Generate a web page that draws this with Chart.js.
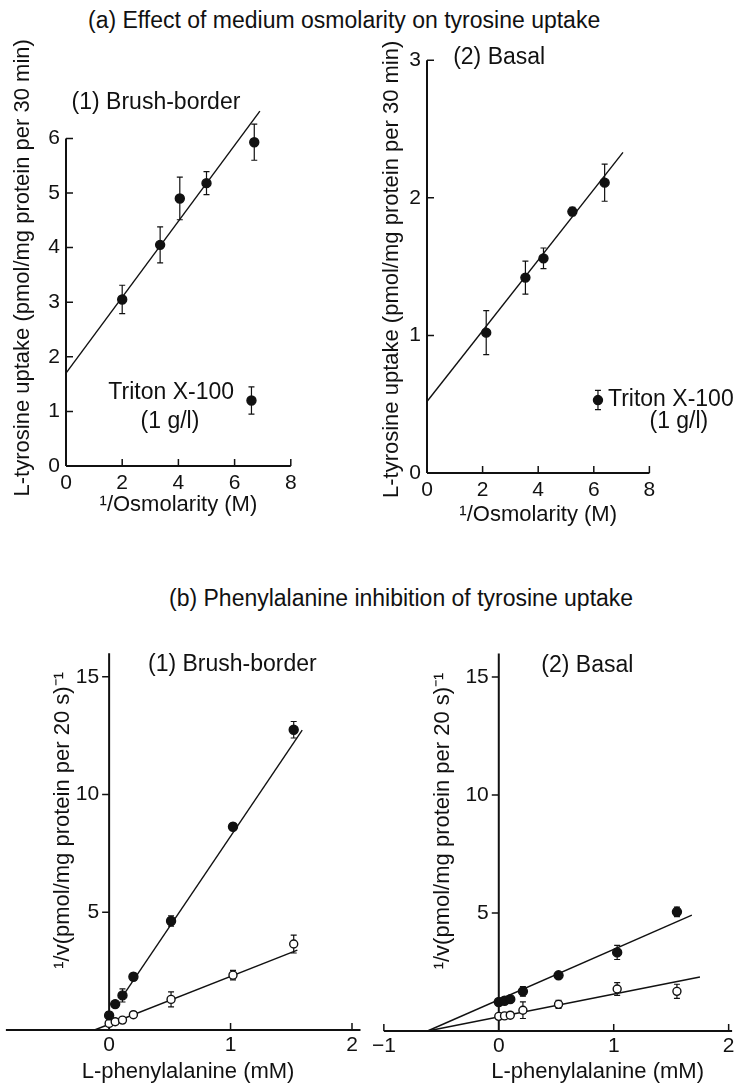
<!DOCTYPE html>
<html>
<head>
  <meta charset="utf-8">
  <title>Tyrosine uptake: osmolarity and phenylalanine inhibition</title>
  <script src="https://cdn.jsdelivr.net/npm/chart.js"></script>
  <style>
    body { margin: 0; background: #fff; }
    #page { position: relative; width: 738px; height: 1085px; overflow: hidden; }
    #page canvas { position: absolute; }
    .heading { position: absolute; font: 23px/26px "Liberation Sans", Arial, sans-serif; color: #111; white-space: nowrap; }
  </style>
</head>
<body>
<div id="page">
  <div class="heading" style="left:88px; top:7px;">(a) Effect of medium osmolarity on tyrosine uptake</div>
  <div class="heading" style="left:169px; top:585px;">(b) Phenylalanine inhibition of tyrosine uptake</div>
  <canvas id="chartA1" width="369" height="560" style="left:0; top:0;"></canvas>
  <canvas id="chartA2" width="369" height="560" style="left:369px; top:0;"></canvas>
  <canvas id="chartB1" width="369" height="525" style="left:0; top:560px;"></canvas>
  <canvas id="chartB2" width="369" height="525" style="left:369px; top:560px;"></canvas>
</div>

<script>
  // ---- (a) uptake against 1/osmolarity ----
  var osmA1 = [2.0, 3.35, 4.05, 5.0, 6.7];
  var uptakeA1 = [3.05, 4.05, 4.9, 5.18, 5.93];
  var errA1 = [0.26, 0.33, 0.39, 0.21, 0.33];
  var fitA1 = [[0, 1.7], [6.9, 6.5]];
  var tritonA1 = { x: 6.6, y: 1.2, err: 0.25 };

  var osmA2 = [2.13, 3.54, 4.19, 5.23, 6.39];
  var uptakeA2 = [1.02, 1.42, 1.56, 1.90, 2.11];
  var errA2 = [0.16, 0.12, 0.075, 0.03, 0.135];
  var fitA2 = [[0, 0.52], [7.05, 2.33]];
  var tritonA2 = { x: 6.15, y: 0.53, err: 0.07 };

  // ---- (b) Dixon plots, 1/v against phenylalanine ----
  var pheB1 = [0, 0.05, 0.11, 0.2, 0.51, 1.02, 1.52];
  var filledB1 = [0.62, 1.1, 1.47, 2.26, 4.63, 8.63, 12.75];
  var filledErrB1 = [0.15, 0.1, 0.28, 0.15, 0.22, 0.15, 0.35];
  var openB1 = [0.28, 0.35, 0.42, 0.65, 1.3, 2.33, 3.65];
  var openErrB1 = [0.1, 0.05, 0.08, 0.1, 0.32, 0.2, 0.38];
  var fitFilledB1 = [[0.13, 1.58], [1.59, 12.73]];
  var fitOpenB1 = [[-0.12, 0], [1.55, 3.39]];

  var pheB2 = [0, 0.05, 0.1, 0.21, 0.52, 1.03, 1.55];
  var filledB2 = [1.23, 1.28, 1.35, 1.68, 2.36, 3.33, 5.05];
  var filledErrB2 = [0.06, 0.06, 0.06, 0.2, 0.08, 0.3, 0.2];
  var openB2 = [0.62, 0.64, 0.67, 0.88, 1.13, 1.78, 1.68];
  var openErrB2 = [0.05, 0.05, 0.05, 0.35, 0.17, 0.27, 0.3];
  var fitFilledB2 = [[-0.62, 0], [1.68, 4.91]];
  var fitOpenB2 = [[-0.62, 0], [1.75, 2.29]];

  // tick values
  var ticksXA = [0, 2, 4, 6, 8];
  var ticksYA1 = [0, 1, 2, 3, 4, 5, 6];
  var ticksYA2 = [0, 1, 2, 3];
  var ticksXB1 = [0, 1, 2];
  var ticksXB2 = [-1, 0, 1, 2];
  var ticksYB = [5, 10, 15];

  var FONT = '"Liberation Sans", Arial, sans-serif';
  var INK = '#111';

  function fmt(v) {
    return v < 0 ? '\u2212' + Math.abs(v) : String(v);
  }

  // paper style axes: lines through the origin, short ticks, error bars, labels
  var paperAxes = {
    id: 'paperAxes',
    beforeDatasetsDraw: function (chart, args, o) {
      var ctx = chart.ctx;
      var sx = chart.scales.x, sy = chart.scales.y;
      var px = function (v) { return sx.getPixelForValue(v); };
      var py = function (v) { return sy.getPixelForValue(v); };
      var x0 = px(0), y0 = py(0);
      ctx.save();
      ctx.strokeStyle = INK;
      ctx.fillStyle = INK;

      // error bars under the markers
      chart.data.datasets.forEach(function (ds, i) {
        if (!ds.errorBars) return;
        var meta = chart.getDatasetMeta(i);
        ctx.lineWidth = 1.2;
        ctx.beginPath();
        meta.data.forEach(function (pt, j) {
          var v = ds.data[j].y, e = ds.errorBars[j];
          var top = py(v + e), bot = py(v - e);
          ctx.moveTo(pt.x, top); ctx.lineTo(pt.x, bot);
          ctx.moveTo(pt.x - 3, top); ctx.lineTo(pt.x + 3, top);
          ctx.moveTo(pt.x - 3, bot); ctx.lineTo(pt.x + 3, bot);
        });
        ctx.stroke();
      });

      // axis lines
      ctx.lineWidth = 2;
      ctx.beginPath();
      ctx.moveTo(px(o.xSpan[0]), y0); ctx.lineTo(px(o.xSpan[1]), y0);
      ctx.moveTo(x0, py(o.ySpan[0])); ctx.lineTo(x0, py(o.ySpan[1]));
      ctx.stroke();

      // tick marks
      ctx.lineWidth = 1.5;
      ctx.beginPath();
      o.xTicks.forEach(function (v) {
        if (v === 0) return;
        ctx.moveTo(px(v), y0); ctx.lineTo(px(v), y0 - 7);
      });
      o.yTicks.forEach(function (v) {
        if (v === 0) return;
        ctx.moveTo(x0, py(v)); ctx.lineTo(x0 + 7 * o.yTickSide, py(v));
      });
      ctx.stroke();

      // tick labels
      ctx.font = '21px ' + FONT;
      ctx.textBaseline = 'middle';
      ctx.textAlign = 'center';
      o.xTicks.forEach(function (v) { ctx.fillText(fmt(v), px(v), y0 + o.xLabelGap); });
      ctx.textAlign = 'right';
      o.yTicks.forEach(function (v) { ctx.fillText(fmt(v), x0 - o.yLabelGap, py(v)); });

      // axis titles
      ctx.font = '22px ' + FONT;
      ctx.textAlign = 'center';
      ctx.fillText(o.xTitle.text, px(o.xTitle.at), y0 + o.xTitle.gap);
      ctx.save();
      ctx.translate(x0 - o.yTitle.gap, py(o.yTitle.at));
      ctx.rotate(-Math.PI / 2);
      ctx.fillText(o.yTitle.text, 0, 0);
      ctx.restore();

      // panel notes
      ctx.font = '23px ' + FONT;
      o.notes.forEach(function (n) {
        ctx.textAlign = n.align || 'left';
        ctx.fillText(n.text, px(n.x), py(n.y));
      });
      ctx.restore();
    }
  };

  function marks(xs, ys, errs, filled) {
    return {
      data: xs.map(function (x, i) { return { x: x, y: ys[i] }; }),
      errorBars: errs,
      pointRadius: filled ? 4.5 : 4,
      pointBackgroundColor: filled ? INK : '#fff',
      pointBorderColor: INK,
      pointBorderWidth: 1.4,
      showLine: false,
      clip: false
    };
  }

  function fitLine(pts) {
    return {
      data: pts.map(function (p) { return { x: p[0], y: p[1] }; }),
      showLine: true,
      borderColor: INK,
      borderWidth: 1.4,
      pointRadius: 0,
      clip: false
    };
  }

  function panel(id, datasets, xr, yr, pad, frame) {
    return new Chart(document.getElementById(id), {
      type: 'scatter',
      data: { datasets: datasets },
      options: {
        responsive: false,
        animation: false,
        events: [],
        layout: { padding: pad },
        scales: {
          x: { type: 'linear', display: false, min: xr[0], max: xr[1] },
          y: { type: 'linear', display: false, min: yr[0], max: yr[1] }
        },
        plugins: {
          legend: { display: false },
          tooltip: { enabled: false },
          paperAxes: frame
        }
      },
      plugins: [paperAxes]
    });
  }

  var yTitleA = 'L-tyrosine uptake (pmol/mg protein per 30 min)';
  var xTitleA = '\u00B9/Osmolarity (M)';
  var yTitleB = '\u00B9/v(pmol/mg protein per 20 s)\u207B\u00B9';
  var xTitleB = 'L-phenylalanine (mM)';

  panel('chartA1', [
    marks(osmA1, uptakeA1, errA1, true),
    marks([tritonA1.x], [tritonA1.y], [tritonA1.err], true),
    fitLine(fitA1)
  ], [0, 8], [0, 6], { left: 66, right: 78.2, top: 138.4, bottom: 94 }, {
    xSpan: [0, 8], ySpan: [0, 6], xTicks: ticksXA, yTicks: ticksYA1,
    yTickSide: 1, xLabelGap: 17, yLabelGap: 6,
    xTitle: { text: xTitleA, at: 4.0, gap: 39 },
    yTitle: { text: yTitleA, at: 3.63, gap: 43 },
    notes: [
      { text: '(1) Brush-border', x: 0.2, y: 6.65 },
      { text: 'Triton X-100', x: 5.98, y: 1.34, align: 'right' },
      { text: '(1 g/l)', x: 3.7, y: 0.81, align: 'center' }
    ]
  });

  panel('chartA2', [
    marks(osmA2, uptakeA2, errA2, true),
    marks([tritonA2.x], [tritonA2.y], [tritonA2.err], true),
    fitLine(fitA2)
  ], [0, 8], [0, 3], { left: 58, right: 88.6, top: 60.2, bottom: 87 }, {
    xSpan: [0, 8], ySpan: [0, 3], xTicks: ticksXA, yTicks: ticksYA2,
    yTickSide: 1, xLabelGap: 17, yLabelGap: 6,
    xTitle: { text: xTitleA, at: 4.0, gap: 42 },
    yTitle: { text: yTitleA, at: 1.48, gap: 35 },
    notes: [
      { text: '(2) Basal', x: 0.94, y: 3.02 },
      { text: 'Triton X-100', x: 6.51, y: 0.53 },
      { text: '(1 g/l)', x: 9.06, y: 0.37, align: 'center' }
    ]
  });

  panel('chartB1', [
    marks(pheB1, filledB1, filledErrB1, true),
    marks(pheB1, openB1, openErrB1, false),
    fitLine(fitFilledB1),
    fitLine(fitOpenB1)
  ], [-0.85, 2.07], [0, 16], { left: 5.2, right: 8.5, top: 93.2, bottom: 55 }, {
    xSpan: [-0.85, 2.07], ySpan: [0, 16], xTicks: ticksXB1, yTicks: ticksYB,
    yTickSide: -1, xLabelGap: 15, yLabelGap: 10,
    xTitle: { text: xTitleB, at: 0.65, gap: 42 },
    yTitle: { text: yTitleB, at: 8.9, gap: 46 },
    notes: [{ text: '(1) Brush-border', x: 0.32, y: 15.5 }]
  });

  panel('chartB2', [
    marks(pheB2, filledB2, filledErrB2, true),
    marks(pheB2, openB2, openErrB2, false),
    fitLine(fitFilledB2),
    fitLine(fitOpenB2)
  ], [-1, 2.03], [0, 16], { left: 14.85, right: 3, top: 93.4, bottom: 54 }, {
    xSpan: [-1, 2.03], ySpan: [0, 16], xTicks: ticksXB2, yTicks: ticksYB,
    yTickSide: -1, xLabelGap: 15, yLabelGap: 10,
    xTitle: { text: xTitleB, at: 0.86, gap: 41 },
    yTitle: { text: yTitleB, at: 8.9, gap: 56 },
    notes: [{ text: '(2) Basal', x: 0.37, y: 15.5 }]
  });
</script>
</body>
</html>
